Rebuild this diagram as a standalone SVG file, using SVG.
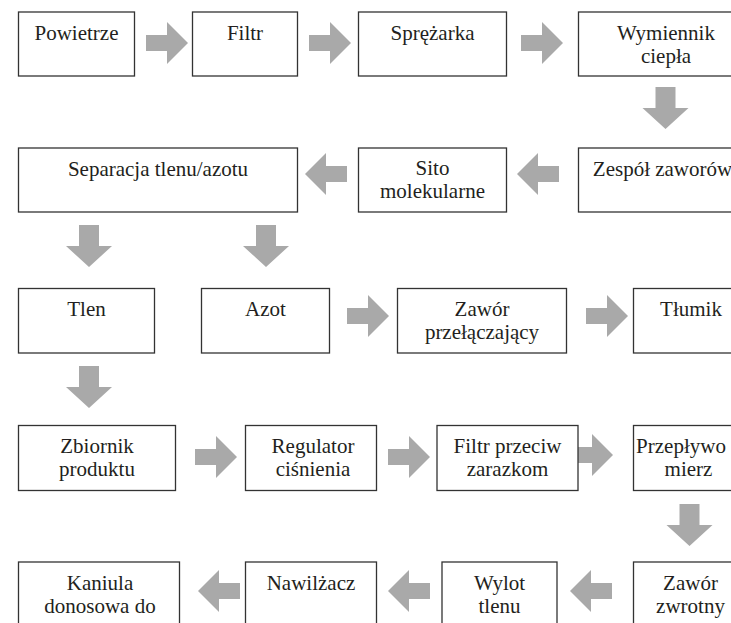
<svg xmlns="http://www.w3.org/2000/svg" width="731" height="623" viewBox="0 0 731 623">
<style>
.box{fill:#fff;stroke:#333;stroke-width:1.3}
.t{font-family:'Liberation Serif','Times New Roman',serif;font-size:21px;fill:#231f20;text-anchor:middle}
.arr{fill:#a9a9a9}
</style>
<defs>
<path id="ar" d="M0,-8 H21 V-21 L42,0 L21,21 V8 H0 Z"/>
<path id="al" d="M42,-8 H21 V-21 L0,0 L21,21 V8 H42 Z"/>
<path id="ad" d="M-10,0 V21 H-23 L0,42 L23,21 H10 V0 Z"/>
</defs>
<rect width="731" height="623" fill="#fff"/>
<g id="connectors" class="arr">
<use href="#ar" x="146" y="43"/>
<use href="#ar" x="309" y="43"/>
<use href="#ar" x="521" y="43"/>
<use href="#ad" x="665.5" y="87"/>
<use href="#al" x="305" y="174"/>
<use href="#al" x="517" y="174"/>
<use href="#ad" x="89" y="225"/>
<use href="#ad" x="266" y="225"/>
<use href="#ar" x="347" y="316"/>
<use href="#ar" x="586" y="316"/>
<use href="#ad" x="89" y="366"/>
<use href="#ar" x="195" y="457"/>
<use href="#ar" x="388" y="457"/>
<use href="#ar" x="571" y="455"/>
<use href="#ad" x="689.5" y="504"/>
<use href="#al" x="198" y="591"/>
<use href="#al" x="388" y="591"/>
<use href="#al" x="570" y="591"/>
</g>
<g id="nodes">
<g id="powietrze"><rect class="box" x="18.5" y="12" width="116" height="64"/><text class="t" x="76.5" y="40">Powietrze</text></g>
<g id="filtr"><rect class="box" x="192.5" y="12" width="105" height="64"/><text class="t" x="245" y="40">Filtr</text></g>
<g id="sprezarka"><rect class="box" x="358.5" y="12" width="148" height="64"/><text class="t" x="432.5" y="40">Sprężarka</text></g>
<g id="wymiennik"><rect class="box" x="578.5" y="12" width="176" height="64"/><text class="t" x="666" y="40">Wymiennik</text><text class="t" x="666" y="63">ciepła</text></g>
<g id="separacja"><rect class="box" x="18.5" y="148" width="279" height="64"/><text class="t" x="158" y="176">Separacja tlenu/azotu</text></g>
<g id="sito"><rect class="box" x="358.5" y="148" width="148" height="64"/><text class="t" x="432.5" y="175">Sito</text><text class="t" x="432.5" y="198">molekularne</text></g>
<g id="zespol"><rect class="box" x="578.5" y="148" width="176" height="64"/><text class="t" x="662.5" y="176">Zespół zaworów</text></g>
<g id="tlen"><rect class="box" x="18.5" y="288.5" width="136" height="64.5"/><text class="t" x="86.5" y="316">Tlen</text></g>
<g id="azot"><rect class="box" x="201.5" y="288.5" width="128" height="64.5"/><text class="t" x="265.5" y="316">Azot</text></g>
<g id="zawor-przel"><rect class="box" x="397.5" y="288.5" width="169" height="64.5"/><text class="t" x="482" y="316">Zawór</text><text class="t" x="482" y="339">przełączający</text></g>
<g id="tlumik"><rect class="box" x="633.5" y="288.5" width="116" height="64.5"/><text class="t" x="691" y="316">Tłumik</text></g>
<g id="zbiornik"><rect class="box" x="18.5" y="425.5" width="157" height="65"/><text class="t" x="97" y="453">Zbiornik</text><text class="t" x="97" y="476">produktu</text></g>
<g id="regulator"><rect class="box" x="245.5" y="425.5" width="131" height="65"/><text class="t" x="313" y="453">Regulator</text><text class="t" x="313" y="476">ciśnienia</text></g>
<g id="filtr-przeciw"><rect class="box" x="437" y="425.5" width="141" height="65"/><text class="t" x="507.5" y="453">Filtr przeciw</text><text class="t" x="507.5" y="476">zarazkom</text></g>
<g id="przeplywomierz"><rect class="box" x="633.5" y="425.5" width="116" height="65"/><text class="t" x="681" y="453">Przepływo</text><text class="t" x="688.5" y="476">mierz</text></g>
<g id="kaniula"><rect class="box" x="18.5" y="562" width="161" height="64"/><text class="t" x="100" y="590">Kaniula</text><text class="t" x="100" y="613">donosowa do</text></g>
<g id="nawilzacz"><rect class="box" x="245.5" y="562" width="131" height="64"/><text class="t" x="311" y="590">Nawilżacz</text></g>
<g id="wylot"><rect class="box" x="442" y="562" width="115" height="64"/><text class="t" x="499.5" y="590">Wylot</text><text class="t" x="499.5" y="613">tlenu</text></g>
<g id="zawor-zwrotny"><rect class="box" x="633.5" y="562" width="116" height="64"/><text class="t" x="690.5" y="590">Zawór</text><text class="t" x="690.5" y="613">zwrotny</text></g>
</g>
</svg>
